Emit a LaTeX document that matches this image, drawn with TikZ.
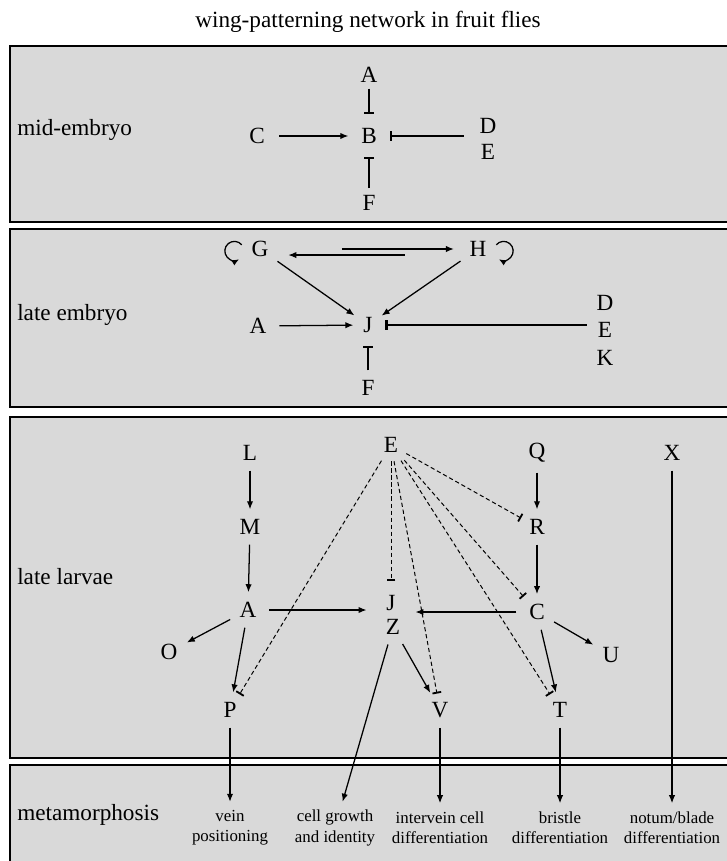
\documentclass[tikz,border=0pt]{standalone}
\usepackage{fontspec}
\setmainfont{Liberation Serif}
\usetikzlibrary{arrows.meta, calc}
\tikzset{
  panel/.style={draw=black, line width=1.1pt, fill=gray!30},
  stage/.style={anchor=west, font=\fontsize{16.5}{19}\selectfont, inner sep=0pt},
  gene/.style={font=\fontsize{16.5}{18.4}\selectfont, inner sep=3pt},
  outcome/.style={align=center, font=\fontsize{12}{14.4}\selectfont, inner sep=2pt},
  act/.style={line width=0.9pt, -{Latex[length=2mm,width=1.6mm]}, shorten <=4pt, shorten >=4pt},
  inh/.style={line width=0.9pt, -{Bar[width=2.4mm,line width=1.6pt]}, shorten <=4pt, shorten >=6pt},
  dinh/.style={line width=0.7pt, dash pattern=on 3pt off 2pt, -{Bar[width=2.2mm,line width=1.3pt]}, shorten <=3pt, shorten >=3pt},
  self/.style={line width=0.9pt, -{Latex[length=1.8mm,width=1.5mm]}}
}

\begin{document}
\begin{tikzpicture}[x=0.025cm, y=-0.025cm]
\useasboundingbox (0,0) rectangle (726,861);

% Title
\node[gene] (title) at (368,22) {wing-patterning network in fruit flies};

% 1. Panels
\draw[panel] (10,46) rectangle (740,222);
\draw[panel] (10,229) rectangle (740,407);
\draw[panel] (10,417) rectangle (740,758);
\draw[panel] (10,765) rectangle (740,900);

% 2. mid-embryo
\node[stage] (s1) at (17,130) {mid-embryo};
\node[gene] (A1) at (369,75) {A};
\node[gene] (B1) at (369,136) {B};
\node[gene] (C1) at (257,136) {C};
\node[gene, align=center] (DE1) at (488,139) {D\\E};
\node[gene] (F1) at (369,203) {F};
\draw[inh, shorten <=1pt, shorten >=7pt] (A1) -- (B1);
\draw[act, shorten <=7pt, shorten >=6pt] (C1) -- (B1);
\draw[inh, shorten <=8pt, shorten >=6pt] (DE1.west |- B1) -- (B1.east);
\draw[inh, shorten <=2pt, shorten >=6pt] (F1) -- (B1);

% 3. late embryo
\node[stage] (s2) at (17,315) {late embryo};
\node[gene] (G2) at (260,249) {G};
\node[gene] (H2) at (478,249) {H};
\node[gene] (J2) at (368,325) {J};
\node[gene] (A2) at (258,326) {A};
\node[gene] (F2) at (368,388) {F};
\node[gene, align=center, font=\fontsize{16.5}{19.5}\selectfont] (DEK2) at (605,330) {D\\E\\K};
\draw[self] ([xshift=-13pt,yshift=3pt]G2.center) arc[start angle=40, end angle=300, radius=6.8pt];
\draw[self] ([xshift=13pt,yshift=3pt]H2.center) arc[start angle=140, end angle=-120, radius=6.8pt];
\draw[act, shorten <=49pt, shorten >=8pt] (G2.east) -- (H2.west);
\draw[act, shorten <=43pt, shorten >=11pt] ([yshift=-4.3pt]H2.west) -- ([yshift=-4.3pt]G2.east);
\draw[act] (G2) -- (J2);
\draw[act] (H2) -- (J2);
\draw[act, shorten <=6pt] (A2) -- (J2);
\draw[inh] (DEK2.west |- J2) -- (J2.east);
\draw[inh] (F2) -- (J2);

% 4. late larvae
\node[stage] (s3) at (17,577) {late larvae};
\node[gene] (L3) at (250,453) {L};
\node[gene] (M3) at (250,527) {M};
\node[gene] (A3) at (248,610) {A};
\node[gene] (O3) at (169,652) {O};
\node[gene] (P3) at (230,710) {P};
\node[gene] (E3) at (391,445) {E};
\node[gene] (J3) at (391,603) {J};
\node[gene] (Z3) at (393,627) {Z};
\node[gene] (Q3) at (537,453) {Q};
\node[gene] (R3) at (537,527) {R};
\node[gene] (C3) at (537,612) {C};
\node[gene] (U3) at (611,655) {U};
\node[gene] (T3) at (560,710) {T};
\node[gene] (V3) at (440,710) {V};
\node[gene] (X3) at (672,453) {X};
\draw[act] (L3) -- (M3);
\draw[act] (M3) -- (A3);
\draw[act] (Q3) -- (R3);
\draw[act] (R3) -- (C3);
\draw[act, shorten <=6pt, shorten >=11pt] (A3) -- (J3.west |- A3);
\draw[act, shorten <=6pt, shorten >=11pt] (C3) -- (J3.east |- C3);
\draw[act] (A3) -- (O3);
\draw[act] (A3) -- (P3);
\draw[act] (C3) -- (U3);
\draw[act] (C3) -- (T3);
\draw[act] (Z3) -- (V3);
\draw[dinh] (E3) -- (R3);
\draw[dinh] (E3) -- (C3);
\draw[dinh] (E3) -- (T3);
\draw[dinh] (E3) -- (V3);
\draw[dinh, shorten >=7pt] (E3) -- (J3);
\draw[dinh] (E3) -- (P3);

% 5. metamorphosis
\node[stage] (s4) at (17,815) {metamorphosis};
\node[outcome] (vein) at (230,828) {vein\\positioning};
\node[outcome] (growth) at (335,828) {cell growth\\and identity};
\node[outcome] (intervein) at (440,828) {intervein cell\\differentiation};
\node[outcome] (bristle) at (560,828) {bristle\\differentiation};
\node[outcome] (notum) at (672,828) {notum/blade\\differentiation};
\draw[act] (P3) -- (vein);
\draw[act] (Z3) -- (growth);
\draw[act] (V3) -- (intervein);
\draw[act] (T3) -- (bristle);
\draw[act] (X3) -- (notum);

\end{tikzpicture}
\end{document}
